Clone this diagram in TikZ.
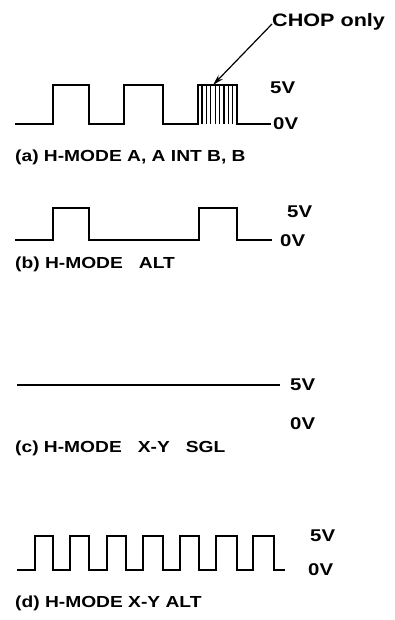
\documentclass[tikz,border=0pt]{standalone}
\usepackage{fontspec}
\setmainfont{Liberation Sans}
\newfontfamily\widefont[FakeStretch=1.2]{Liberation Sans}
\usetikzlibrary{arrows.meta}
\tikzset{
  wave/.style={line width=2.6pt, line join=miter, line cap=butt},
  chopline/.style={line width=1.2pt},
  vlabel/.style={font=\widefont\fontsize{17}{17}\selectfont\bfseries, inner sep=0pt, anchor=west},
  caption/.style={font=\widefont\fontsize{16}{16}\selectfont\bfseries, inner sep=0pt, anchor=west},
  note/.style={font=\widefont\fontsize{18}{18}\selectfont\bfseries, inner sep=0pt, anchor=west},
  pointer/.style={line width=1.2pt, -{Stealth[length=11pt,width=6pt]}}
}
\begin{document}
\begin{tikzpicture}[x=1pt,y=-1pt]
\useasboundingbox (0,0) rectangle (394,620);
% (a)
\draw[wave] (15,124) -- (53,124) -- (53,85) -- (89,85) -- (89,124) -- (124,124) -- (124,85) -- (163,85) -- (163,124) -- (198,124) -- (198,85) -- (237,85) -- (237,124) -- (271,124);
\foreach \x in {202,206.4,210.8,215.2,219.6,224,228.4,232.8}
  \draw[chopline] (\x,85) -- (\x,124);
\node[vlabel] (a5) at (270,88) {5V};
\node[vlabel] (a0) at (273,124) {0V};
\node[note] (chop) at (272,22) {CHOP only};
\coordinate (tip) at (213,85);
\draw[pointer] ([yshift=-2pt]chop.west) -- (tip);
\node[caption] (capa) at (15,157) {(a) H-MODE A, A INT B, B};
% (b)
\draw[wave] (15,240) -- (53,240) -- (53,208) -- (89,208) -- (89,240) -- (199,240) -- (199,208) -- (237,208) -- (237,240) -- (272,240);
\node[vlabel] (b5) at (287,212) {5V};
\node[vlabel] (b0) at (280,241) {0V};
\node[caption] (capb) at (15,264) {(b) H-MODE \ \ ALT};
% (c)
\draw[wave] (17,385) -- (280,385);
\node[vlabel] (c5) at (290,385) {5V};
\node[vlabel] (c0) at (290,424) {0V};
\node[caption] (capc) at (15,448) {(c) H-MODE \ \ X-Y \ \ SGL};
% (d)
\draw[wave] (17,570) -- (35,570)
  -- (35,536) -- (53,536) -- (53,570) -- (70,570)
  -- (70,536) -- (89,536) -- (89,570) -- (107,570)
  -- (107,536) -- (126,536) -- (126,570) -- (143,570)
  -- (143,536) -- (163,536) -- (163,570) -- (180,570)
  -- (180,536) -- (199,536) -- (199,570) -- (216,570)
  -- (216,536) -- (237,536) -- (237,570) -- (253,570)
  -- (253,536) -- (274,536) -- (274,570) -- (285,570);
\node[vlabel] (d5) at (310,536) {5V};
\node[vlabel] (d0) at (308,570) {0V};
\node[caption] (capd) at (15,603) {(d) H-MODE X-Y ALT};
\end{tikzpicture}
\end{document}
